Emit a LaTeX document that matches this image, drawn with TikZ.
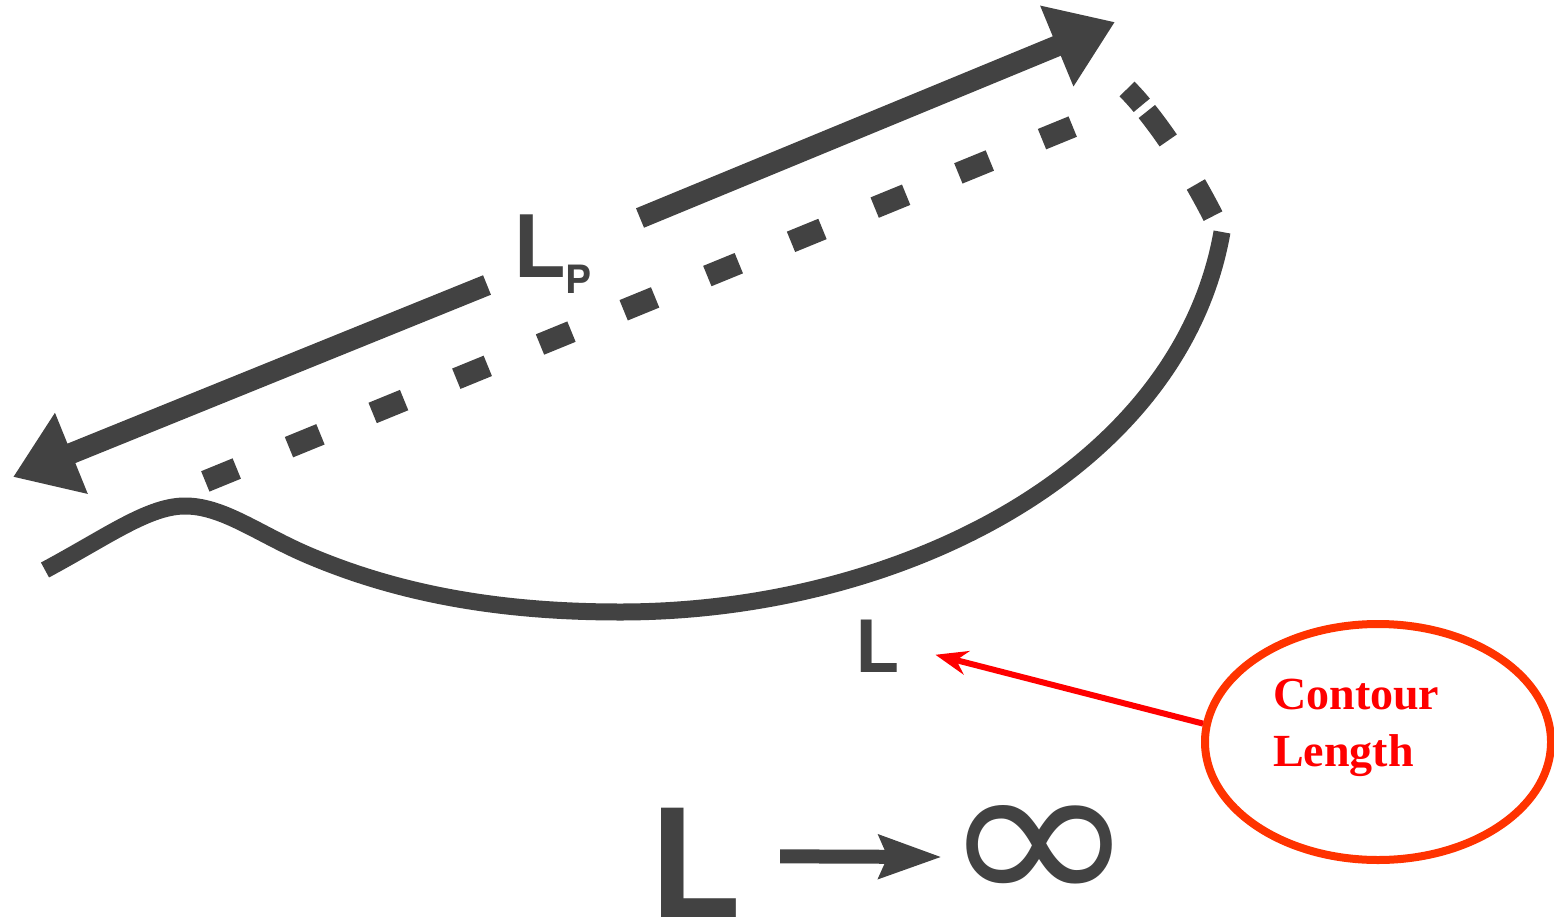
\documentclass[tikz,border=0pt]{standalone}
\usepackage{fontspec}
\setmainfont{Liberation Serif}
\newfontfamily\hv{TeX Gyre Heros}
\newfontfamily\dv{DejaVu Sans}
\usetikzlibrary{arrows.meta,shapes.geometric}
\definecolor{ink}{HTML}{424242}
\definecolor{ellred}{HTML}{FF3300}
\definecolor{txtred}{HTML}{FF0000}
\begin{document}
\begin{tikzpicture}[x=1pt,y=-1pt,
  bigarrow/.style={draw=ink, line width=21pt, -{Triangle[length=63pt,width=83pt]}},
  chainline/.style={draw=ink, line width=17pt},
  dashline/.style={draw=ink, line width=22pt, dash pattern=on 34pt off 56.4pt},
  lbl/.style={inner sep=0pt, text=ink, font=\hv\bfseries},
  redarrow/.style={draw=txtred, line width=6pt, -{Stealth[length=32pt,width=24pt]}},
  limarrow/.style={draw=ink, line width=14pt, -{Stealth[length=62pt,width=42pt,inset=8pt]}},
]
\useasboundingbox (0,0) rectangle (1554,923);
% persistence length arrows
\draw[bigarrow] (640,218) -- (1115,22);
\draw[bigarrow] (487,285) -- (13,477);
% dashed end-to-end chord
\draw[dashline] (205.3,481.4) -- (1072.7,126.6);
\draw[draw=ink, line width=21pt, dash pattern=on 22pt off 8pt on 36pt off 52pt on 36pt off 100pt]
  (1127,89) .. controls (1150,112) and (1185,160) .. (1216,222);
% the chain
\draw[chainline] (45,570) .. controls (110,535) and (150,505) .. (187,506)
  .. controls (225,507) and (260,535) .. (310,556)
  .. controls (400,594) and (500,612) .. (620,612)
  .. controls (900,612) and (1180,470) .. (1222,232);
% labels
\node[lbl, anchor=base west, font=\hv\bfseries\fontsize{86}{86}\selectfont] (Lp) at (513,277) {L\raisebox{-16pt}{\fontsize{39}{39}\selectfont P}};
\node[lbl, anchor=base west, font=\hv\bfseries\fontsize{72}{72}\selectfont] (lab) at (855,672) {L};
\node[lbl, anchor=base west, font=\hv\bfseries\fontsize{150}{150}\selectfont] (Lb) at (649,917) {L};
\node[inner sep=0pt, text=ink] (inf) at (1040,856) {\resizebox{196pt}{102pt}{\dv ∞}};
\draw[limarrow] ([xshift=39pt,yshift=6pt]Lb.east) -- ([yshift=-1pt]inf.west);
% contour length callout
\node[ellipse, draw=ellred, line width=8pt, minimum width=346pt, minimum height=236pt, inner sep=0pt] (ell) at (1378,742) {};
\node[anchor=base west, inner sep=0pt, text=txtred, align=left, font=\bfseries\fontsize{46}{57}\selectfont] (txt) at (1273,766) {Contour\\Length};
\draw[redarrow] (ell.174) -- ([xshift=36pt,yshift=-9pt]lab.east);
\end{tikzpicture}
\end{document}
